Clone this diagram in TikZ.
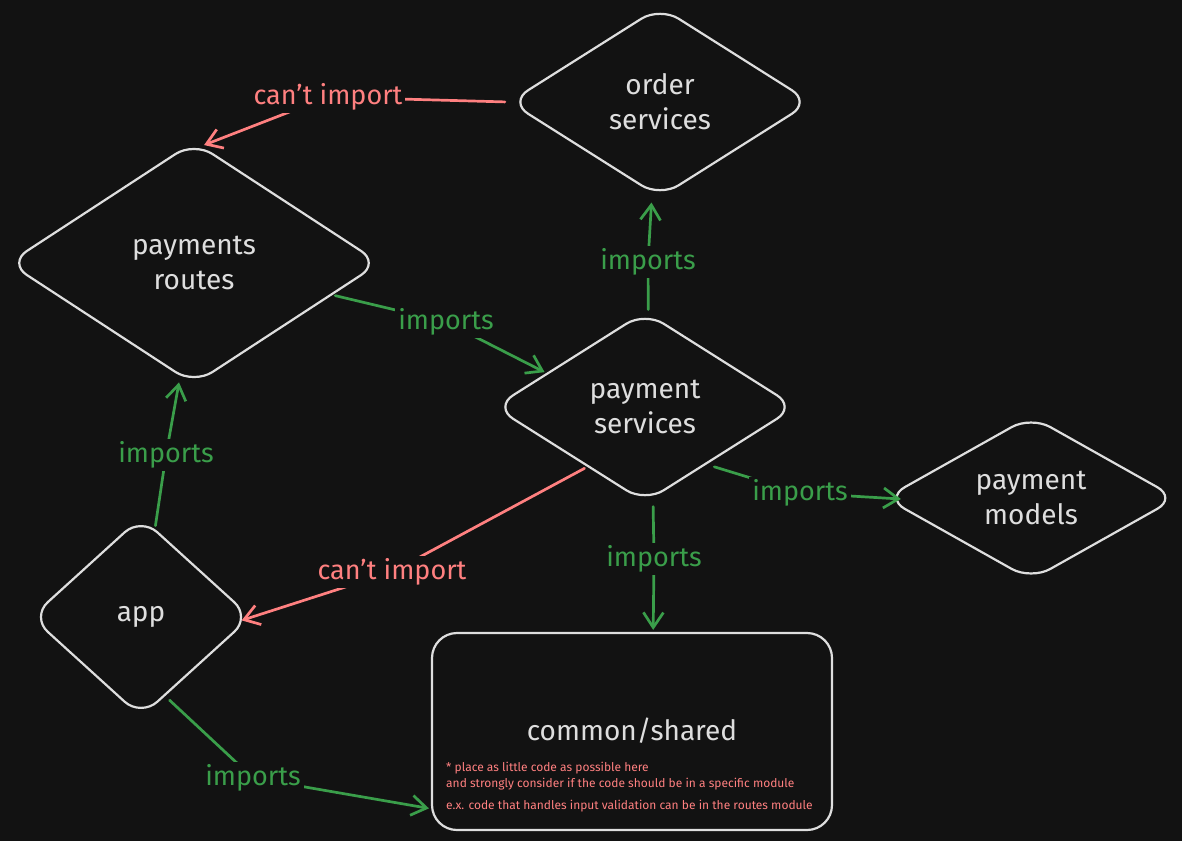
\documentclass[tikz,border=0pt]{standalone}
\usepackage{fontspec}
\setmainfont{Fira Sans}
\usetikzlibrary{shapes.geometric,arrows.meta}
\definecolor{bg}{HTML}{121212}
\definecolor{fg}{HTML}{DEDEDE}
\definecolor{grn}{HTML}{3A9E4A}
\definecolor{rd}{HTML}{FF8080}
\begin{document}
\begin{tikzpicture}[x=1pt,y=-1pt,
  dia/.style={diamond, draw=fg, line width=2.2pt, rounded corners=22pt, inner sep=0pt,
    text=fg, align=center, font=\fontsize{28}{35}\selectfont},
  boxnode/.style={rectangle, draw=fg, line width=2.2pt, rounded corners=25pt, inner sep=0pt},
  conn/.style={line width=2.7pt, line cap=round, line join=round,
    -{Straight Barb[length=15pt,width=20pt,line width=2.7pt]}, shorten <=3pt, shorten >=2pt},
  good/.style={conn, draw=grn},
  bad/.style={conn, draw=rd},
  lbl/.style={fill=bg, inner sep=3pt, font=\fontsize{27}{32}\selectfont},
  notetxt/.style={text=rd, inner sep=0pt, font=\fontsize{12}{16}\selectfont, align=left}]
\fill[bg] (0,0) rectangle (1182,841);
\useasboundingbox (0,0) rectangle (1182,841);

% shapes
\node[dia, minimum width=302pt, minimum height=191pt] (order) at (660,102) {order\\services};
\node[dia, minimum width=372pt, minimum height=243pt] (routes) at (194,263) {payments\\routes};
\node[dia, minimum width=302pt, minimum height=191pt] (services) at (645,407) {payment\\services};
\node[dia, minimum width=292pt, minimum height=163pt] (models) at (1031,498) {payment\\models};
\node[dia, minimum width=220pt, minimum height=200pt] (app) at (141,617) {app};
\node[boxnode, minimum width=400pt, minimum height=197pt] (common) at (632,731.5) {};
\node[text=fg, font=\fontsize{28}{35}\selectfont] (commontxt) at (632,731) {common/shared};
\node[notetxt, anchor=north west] (note1) at (446,762) {* place as little code as possible here\\and strongly consider if the code should be in a specific module};
\node[notetxt, anchor=west] (note2) at (446,806) {e.x. code that handles input validation can be in the routes module};

% label positions
\coordinate (c1) at (328,97);
\coordinate (c2) at (446,322);
\coordinate (c3) at (648,262);
\coordinate (c4) at (166,455);
\coordinate (c5) at (392,572);
\coordinate (c6) at (800,493);
\coordinate (c7) at (654,559);
\coordinate (c8) at (253,778);

% connectors
\draw[bad] (order.west) -- (c1) -- (routes.86);
\draw[good] (routes.-13) -- (c2) -- (services.161);
\draw[good, shorten >=9pt] (services.88) -- (c3) -- (order.265);
\draw[good, shorten >=6pt] (app.81) -- (c4) -- (routes.-97);
\draw[bad, shorten >=-11pt] (services.-134) -- (c5) -- (app.east);
\draw[good, shorten <=8pt, shorten >=-17pt] (services.-43) -- (c6) -- (models.west);
\draw[good, shorten <=8pt] (services.-85) -- (c7) -- (common.78);
\draw[good, shorten <=6pt] (app.-73) -- (c8) -- (common.-159);

% labels
\node[lbl, text=rd] (l1) at (c1) {can't import};
\node[lbl, text=grn] (l2) at (c2) {imports};
\node[lbl, text=grn] (l3) at (c3) {imports};
\node[lbl, text=grn] (l4) at (c4) {imports};
\node[lbl, text=rd] (l5) at (c5) {can't import};
\node[lbl, text=grn] (l6) at (c6) {imports};
\node[lbl, text=grn] (l7) at (c7) {imports};
\node[lbl, text=grn] (l8) at (c8) {imports};
\end{tikzpicture}
\end{document}
